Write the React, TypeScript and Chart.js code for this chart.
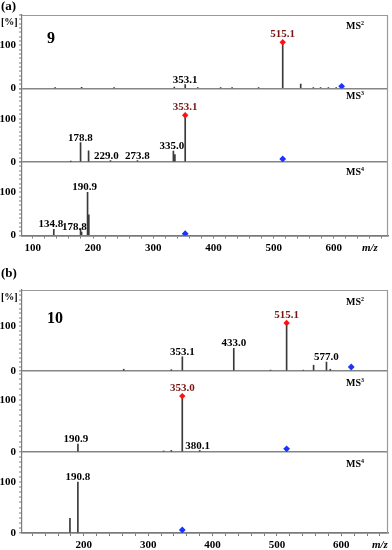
import React, { useEffect, useRef } from 'react';
import { Chart, registerables } from 'chart.js';

Chart.register(...registerables);

// ---------------- (a) compound 9 ----------------
const A_X_MIN = 82;
const A_X_MAX = 690;
const A_Y_MAX = [170, 170, 170];

const A_MS2_MZ = [137, 181, 235, 335, 353.1, 374, 412, 431, 475, 515.1, 545, 566, 578, 591, 604];
const A_MS2_INT = [1.5, 2.5, 1.5, 3, 9, 2, 1.5, 1.5, 1.5, 107, 10, 1.5, 2, 2, 2];
const A_MS2_LABELS = ['353.1', '515.1'];
const A_MS2_BASE = 515.1;
const A_MS2_PRECURSOR = 613;
const A_MS2_PRECURSOR_INT = 5;

const A_MS3_MZ = [163, 179.3, 192.6, 229.0, 273.8, 333.5, 336.0, 353.1];
const A_MS3_INT = [1.5, 45, 26, 3, 3, 25, 17, 108];
const A_MS3_LABELS = ['178.8', '229.0', '273.8', '335.0', '353.1'];
const A_MS3_BASE = 353.1;
const A_MS3_PRECURSOR = 515.1;
const A_MS3_PRECURSOR_INT = 7;

const A_MS4_MZ = [134.8, 179.3, 181, 190.9, 193];
const A_MS4_INT = [14, 16, 8, 100, 48];
const A_MS4_LABELS = ['134.8', '178.8', '190.9'];
const A_MS4_BASE = null;
const A_MS4_PRECURSOR = 353.1;
const A_MS4_PRECURSOR_INT = 4;

// ---------------- (b) compound 10 ----------------
const B_X_MIN = 104;
const B_X_MAX = 672.6;
const B_Y_MAX = [182, 155, 159];

const B_MS2_MZ = [262, 336, 353.1, 433.0, 490, 515.1, 541, 557, 577.0, 583];
const B_MS2_INT = [4, 3, 32, 51, 2, 108, 2, 13, 20, 4];
const B_MS2_LABELS = ['353.1', '433.0', '515.1', '577.0'];
const B_MS2_BASE = 515.1;
const B_MS2_PRECURSOR = 615.5;
const B_MS2_PRECURSOR_INT = 9;

const B_MS3_MZ = [190.9, 324, 336, 353.0, 380.1];
const B_MS3_INT = [15, 2, 3, 107, 3];
const B_MS3_LABELS = ['190.9', '353.0', '380.1'];
const B_MS3_BASE = 353.0;
const B_MS3_PRECURSOR = 515.1;
const B_MS3_PRECURSOR_INT = 6;

const B_MS4_MZ = [178.5, 190.8];
const B_MS4_INT = [29, 100];
const B_MS4_LABELS = ['190.8'];
const B_MS4_BASE = null;
const B_MS4_PRECURSOR = 353.0;
const B_MS4_PRECURSOR_INT = 6;

const STAGE_NAMES = ['2', '3', '4'];

// ---------------- styles ----------------
const SERIF = '"Liberation Serif", "Times New Roman", serif';
const AXIS = '#7a7a7a';
const BORDER = '#9a9a9a';
const BASELINE = '#858585';
const PEAK = '#3a3a3a';
const RED = '#ff1010';
const RED_TEXT = '#7a1414';
const BLUE = '#1a33ff';

const LABEL_NUDGE: Record<string, [number, number]> = {
  'a1:229.0': [-4, 0],
  'a1:335.0': [-2.5, 0],
  'a2:134.8': [-3, 0],
  'a2:178.8': [-6, 3],
  'a2:190.9': [-3, 0],
  'b1:190.9': [-2, 0],
  'b1:380.1': [-2, 1],
};

const PANELS = [
  {
    key: 'a', tag: '(a)', compound: '9', top: 0, height: 262, padTop: 15, xAxisH: 26.5,
    tagY: 10, compoundDy: 28, msDy: [14, 10, 13],
    xMin: A_X_MIN, xMax: A_X_MAX, yMax: A_Y_MAX,
    stages: [
      { mz: A_MS2_MZ, int: A_MS2_INT, labels: A_MS2_LABELS, base: A_MS2_BASE, prec: A_MS2_PRECURSOR, precInt: A_MS2_PRECURSOR_INT },
      { mz: A_MS3_MZ, int: A_MS3_INT, labels: A_MS3_LABELS, base: A_MS3_BASE, prec: A_MS3_PRECURSOR, precInt: A_MS3_PRECURSOR_INT },
      { mz: A_MS4_MZ, int: A_MS4_INT, labels: A_MS4_LABELS, base: A_MS4_BASE, prec: A_MS4_PRECURSOR, precInt: A_MS4_PRECURSOR_INT },
    ],
  },
  {
    key: 'b', tag: '(b)', compound: '10', top: 262, height: 288, padTop: 28, xAxisH: 17,
    tagY: 15, compoundDy: 33, msDy: [15, 15, 15],
    xMin: B_X_MIN, xMax: B_X_MAX, yMax: B_Y_MAX,
    stages: [
      { mz: B_MS2_MZ, int: B_MS2_INT, labels: B_MS2_LABELS, base: B_MS2_BASE, prec: B_MS2_PRECURSOR, precInt: B_MS2_PRECURSOR_INT },
      { mz: B_MS3_MZ, int: B_MS3_INT, labels: B_MS3_LABELS, base: B_MS3_BASE, prec: B_MS3_PRECURSOR, precInt: B_MS3_PRECURSOR_INT },
      { mz: B_MS4_MZ, int: B_MS4_INT, labels: B_MS4_LABELS, base: B_MS4_BASE, prec: B_MS4_PRECURSOR, precInt: B_MS4_PRECURSOR_INT },
    ],
  },
];

function buildConfig(p: any) {
  const datasets: any[] = [];
  const scales: any = {
    x: {
      type: 'linear',
      min: p.xMin,
      max: p.xMax,
      offset: false,
      afterBuildTicks: (s: any) => {
        const t = [];
        for (let v = Math.ceil(s.min / 20) * 20; v <= s.max; v += 20) t.push({ value: v });
        s.ticks = t;
      },
      grid: { offset: false, drawOnChartArea: false, drawTicks: true, tickLength: 3, tickColor: AXIS, tickWidth: 1, color: AXIS },
      border: { display: true, color: AXIS, width: 1.5 },
      ticks: {
        autoSkip: false,
        maxRotation: 0,
        padding: 3,
        color: '#000',
        font: (c: any) =>
          c.tick && c.tick.value === 660
            ? { family: SERIF, size: 11, style: 'italic', weight: 'bold' }
            : { family: SERIF, size: 11, weight: 'bold' },
        callback: (v: any) => (v % 100 === 0 ? String(v) : v === 660 ? 'm/z' : ''),
      },
      afterFit: (s: any) => {
        s.height = p.xAxisH;
      },
    },
  };

  p.stages.forEach((st: any, i: number) => {
    const id = 'y' + i;
    scales[id] = {
      type: 'linear',
      position: 'left',
      stack: 'ms',
      stackWeight: 1,
      weight: 3 - i,
      min: 0,
      max: p.yMax[i],
      offset: false,
      afterBuildTicks: (s: any) => {
        const t = [];
        for (let v = 0; v <= s.max; v += 10) t.push({ value: v });
        s.ticks = t;
      },
      grid: {
        drawTicks: true,
        tickLength: 3,
        tickColor: AXIS,
        tickWidth: 1,
        color: (c: any) => (c.tick && c.tick.value === 0 ? BASELINE : 'rgba(0,0,0,0)'),
        lineWidth: (c: any) => (c.tick && c.tick.value === 0 ? 1.6 : 0),
      },
      border: { display: true, color: AXIS, width: 1.2 },
      ticks: {
        autoSkip: false,
        padding: 3,
        color: '#000',
        font: { family: SERIF, size: 11, weight: 'bold' },
        callback: (v: any) => (v === 0 || v === 100 ? String(v) : ''),
      },
      afterFit: (s: any) => {
        s.width = 22;
      },
    };

    datasets.push({
      type: 'bar',
      xAxisID: 'x',
      yAxisID: id,
      data: st.mz.map((m: number, k: number) => ({ x: m, y: st.int[k] })),
      backgroundColor: PEAK,
      borderWidth: 0,
      barThickness: 1,
      grouped: false,
      order: 3,
    });
    if (st.base != null) {
      const k = st.mz.indexOf(st.base);
      datasets.push({
        type: 'scatter',
        xAxisID: 'x',
        yAxisID: id,
        data: [{ x: st.base, y: st.int[k] }],
        pointStyle: 'rectRot',
        pointRadius: 3.2,
        backgroundColor: RED,
        borderColor: RED,
        borderWidth: 0,
        order: 1,
      });
    }
    datasets.push({
      type: 'scatter',
      xAxisID: 'x',
      yAxisID: id,
      data: [{ x: st.prec, y: st.precInt }],
      pointStyle: 'rectRot',
      pointRadius: 3.4,
      backgroundColor: BLUE,
      borderColor: BLUE,
      borderWidth: 0,
      order: 1,
    });
  });

  const annot = {
    id: 'annot',
    afterDraw(chart: any) {
      const ctx = chart.ctx;
      const ca = chart.chartArea;
      ctx.save();
      ctx.strokeStyle = BORDER;
      ctx.lineWidth = 1.2;
      ctx.beginPath();
      ctx.moveTo(ca.left, ca.top + 0.5);
      ctx.lineTo(ca.right - 0.5, ca.top + 0.5);
      ctx.lineTo(ca.right - 0.5, ca.bottom);
      ctx.stroke();

      ctx.fillStyle = '#000';
      ctx.textAlign = 'left';
      ctx.textBaseline = 'alphabetic';
      ctx.font = `bold 13px ${SERIF}`;
      ctx.fillText(p.tag, 1, p.tagY);
      ctx.font = `bold 10px ${SERIF}`;
      ctx.fillText('[%]', 1, ca.top + 10);
      ctx.font = `bold 16px ${SERIF}`;
      ctx.fillText(p.compound, ca.left + 25, ca.top + p.compoundDy);

      const x = chart.scales.x;
      p.stages.forEach((st: any, i: number) => {
        const ys = chart.scales['y' + i];
        ctx.fillStyle = '#000';
        ctx.textAlign = 'left';
        ctx.font = `bold 10px ${SERIF}`;
        const lx = ca.right - 42;
        const ly = ys.top + p.msDy[i];
        ctx.fillText('MS', lx, ly);
        const w = ctx.measureText('MS').width;
        ctx.font = `bold 6px ${SERIF}`;
        ctx.fillText(STAGE_NAMES[i], lx + w, ly - 4);

        ctx.font = `bold 11px ${SERIF}`;
        ctx.textAlign = 'center';
        st.labels.forEach((lab: string) => {
          const m = parseFloat(lab);
          let h = 0;
          st.mz.forEach((mm: number, k: number) => {
            if (Math.abs(mm - m) <= 3) h = Math.max(h, st.int[k]);
          });
          const isBase = st.base != null && Math.abs(st.base - m) < 0.01;
          const nudge = LABEL_NUDGE[`${p.key}${i}:${lab}`] || [0, 0];
          const px = x.getPixelForValue(m) + nudge[0];
          const py = ys.getPixelForValue(h) - (isBase ? 5 : 2) + nudge[1];
          ctx.fillStyle = isBase ? RED_TEXT : '#000';
          ctx.fillText(lab, px, py);
        });
      });
      ctx.restore();
    },
  };

  return {
    type: 'bar',
    data: { datasets },
    options: {
      responsive: false,
      animation: false,
      events: [],
      layout: { padding: { top: p.padTop, right: 2, left: 0, bottom: 0 } },
      plugins: { legend: { display: false }, tooltip: { enabled: false }, title: { display: false } },
      scales,
    },
    plugins: [annot],
  };
}

function Panel({ p }: { p: any }) {
  const ref = useRef<HTMLCanvasElement | null>(null);
  useEffect(() => {
    const chart = new Chart(ref.current as HTMLCanvasElement, buildConfig(p) as any);
    return () => chart.destroy();
  }, []);
  return (
    <canvas
      ref={ref}
      width={392}
      height={p.height}
      style={{ position: 'absolute', left: 0, top: p.top, width: 392, height: p.height }}
    />
  );
}

export default function App() {
  return (
    <div style={{ position: 'absolute', left: 0, top: 0, width: 392, height: 550, background: '#fff', overflow: 'hidden' }}>
      {PANELS.map((p) => (
        <Panel key={p.key} p={p} />
      ))}
    </div>
  );
}
